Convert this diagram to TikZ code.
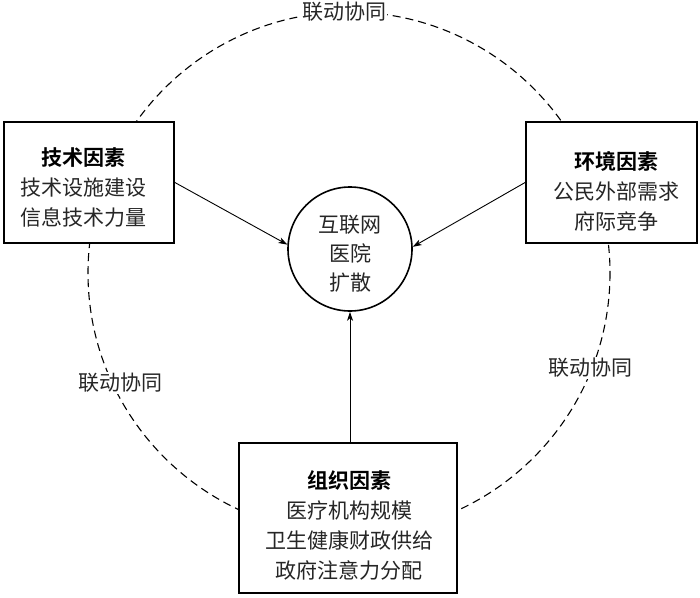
\documentclass[tikz,border=0pt]{standalone}
\usepackage{fontspec}
\setmainfont{Noto Sans CJK SC}[BoldFont={Noto Sans CJK SC Bold}]
\usetikzlibrary{arrows.meta}
\begin{document}
\begin{tikzpicture}[x=1pt,y=-1pt,
  every node/.style={font=\fontsize{21}{30}\selectfont, text=black!85},
  factorbox/.style={draw=black, line width=1.8pt, fill=white, align=center, inner sep=0pt},
  core/.style={draw=black, line width=1.6pt, circle, fill=white, minimum size=124pt, inner sep=0pt, align=center},
  link/.style={line width=1.1pt, dash pattern=on 8pt off 5pt},
  linklabel/.style={fill=white, inner sep=1pt},
  flow/.style={line width=0.9pt, -{Stealth[length=9pt,width=6pt,inset=2.5pt]}},
  ttl/.style={}]
\useasboundingbox (0,0) rectangle (700,597);
\fill[white] (0,0) rectangle (700,597);
\coordinate (ring) at (349,273);
\draw[link] (ring) circle[radius=261];
\node[linklabel] (l1) at (344,12) {联动协同};
\node[linklabel] (l2) at (120,383) {联动协同};
\node[linklabel] (l3) at (590,368) {联动协同};
\node[factorbox, minimum width=170pt, minimum height=121pt] (tech) at (89,182.5) {};
\node (techtxt) at (83,187) [align=center] {{\bfseries\color{black}技术因素}\\技术设施建设\\信息技术力量};
\node[factorbox, minimum width=171pt, minimum height=121pt] (env) at (611.5,182.5) {};
\node (envtxt) at (616,191) [align=center] {{\bfseries\color{black}环境因素}\\公民外部需求\\府际竞争};
\node[factorbox, minimum width=218pt, minimum height=150pt] (org) at (348,518) {};
\node (orgtxt) at (349,525) [align=center] {{\bfseries\color{black}组织因素}\\医疗机构规模\\卫生健康财政供给\\政府注意力分配};
\node[core] (hosp) at (350,249) {};
\node (hosptxt) at (350,254) [align=center, font=\fontsize{21}{29}\selectfont] {互联网\\医院\\扩散};
\draw[flow] (tech.east) -- (hosp.176);
\draw[flow] (env.west) -- (hosp.2);
\draw[flow] (org.north -| hosp.south) -- (hosp.south);
\end{tikzpicture}
\end{document}
